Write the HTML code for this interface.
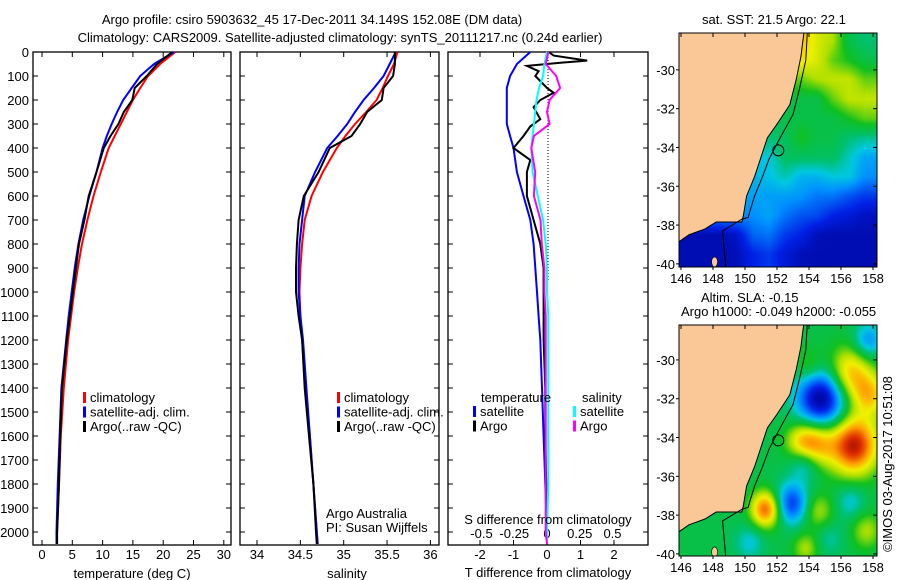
<!DOCTYPE html>
<html><head><meta charset="utf-8"><style>
body{margin:0;background:#fff;width:900px;height:580px;overflow:hidden;position:relative;font-family:"Liberation Sans",sans-serif}
canvas{position:absolute}
svg{position:absolute;left:0;top:0}
text{font-family:"Liberation Sans",sans-serif;font-size:13px;fill:#000}
</style></head><body>
<canvas id="sstCanvas" width="198" height="234" style="left:679px;top:33px"></canvas>
<canvas id="slaCanvas" width="198" height="231" style="left:679px;top:325px"></canvas>
<svg id="chart" width="900" height="580" xmlns="http://www.w3.org/2000/svg">
<text x="312" y="24" text-anchor="middle">Argo profile: csiro 5903632_45 17-Dec-2011 34.149S 152.08E (DM data)</text>
<text x="340" y="42" text-anchor="middle">Climatology: CARS2009. Satellite-adjusted climatology: synTS_20111217.nc (0.24d earlier)</text>
<text x="702" y="24">sat. SST: 21.5 Argo: 22.1</text>
<text x="701" y="302">Altim. SLA: -0.15</text>
<text x="681" y="316">Argo h1000: -0.049 h2000: -0.055</text>
<text transform="translate(892,464) rotate(-90)" text-anchor="middle">©IMOS 03-Aug-2017 10:51:08</text>
<g id="g"></g>
</svg>
<script>
// ---------- profile data ----------
const depths = [0,50,100,150,200,250,300,350,400,500,600,700,800,900,1000,1100,1200,1400,1600,1800,2000,2050];
const tempArgo = [21.5,19,17.3,15.3,14.9,13.5,12.6,11.3,10.2,9,7.7,7,6.1,5.6,5.1,4.6,4.1,3.3,3.0,2.8,2.5,2.5];
const tempClim = [22,19.5,17.5,16.2,15,14,13,12,11,9.7,8.5,7.5,6.6,5.9,5.3,4.8,4.3,3.6,3.1,2.8,2.5,2.4];
const tempSat = [21.8,18.5,16.2,14.8,13.4,12.4,11.5,10.7,10,9,7.8,6.8,6,5.4,4.9,4.4,4,3.2,2.9,2.6,2.4,2.4];
const salArgo = [35.59,35.59,35.57,35.46,35.44,35.27,35.19,35.09,34.84,34.71,34.54,34.48,34.46,34.45,34.45,34.48,34.52,34.55,34.6,34.65,34.68,34.69];
const salClim = [35.62,35.58,35.51,35.45,35.38,35.26,35.13,35.02,34.92,34.76,34.63,34.55,34.52,34.5,34.49,34.5,34.52,34.56,34.61,34.65,34.69,34.7];
const salSat = [35.6,35.53,35.46,35.35,35.23,35.13,35.04,34.93,34.81,34.67,34.55,34.52,34.49,34.48,34.48,34.5,34.53,34.57,34.61,34.65,34.69,34.7];
const diffTSat = [-0.5,-0.9,-1.1,-1.2,-1.2,-1.2,-1.2,-1.1,-1.0,-0.9,-0.7,-0.5,-0.4,-0.35,-0.3,-0.25,-0.2,-0.15,-0.1,-0.05,0,0];
const diffSSat = [0,-0.02,-0.03,-0.06,-0.08,-0.09,-0.1,-0.11,-0.12,-0.11,-0.07,-0.03,-0.01,0,0,0.01,0.01,0.01,0.01,0.01,0,0];
const diffSArgo = [0.01,-0.01,0.07,0.1,0.02,0.0,0.02,-0.1,-0.12,-0.09,-0.1,-0.05,-0.04,-0.02,-0.02,-0.01,-0.01,-0.01,-0.01,-0.01,-0.01,0];
const argoDiffDepths = [0,15,36,45,58,80,100,150,170,200,230,280,310,350,400,450,500,600,700,800,900,1000,1200,1400,1600,1800,2000,2050];
const diffTArgo = [0.05,0.2,1.2,0.4,-0.6,-0.25,-0.35,0,0.2,-0.2,-0.4,-0.2,-0.5,-0.7,-1.0,-0.5,-0.6,-0.6,-0.4,-0.2,-0.1,-0.1,-0.1,-0.05,-0.05,-0.02,0,0];
const depthTicks = [0,100,200,300,400,500,600,700,800,900,1000,1100,1200,1300,1400,1500,1600,1700,1800,1900,2000];
const tempTicks = [0,5,10,15,20,25,30];
const salTicks = [34,34.5,35,35.5,36];
const tdiffTicks = [-2,-1,0,1,2];
const sdiffTicks = [-0.5,-0.25,0,0.25,0.5];
// ---------- map data ----------
const sstLats = [-28.5,-29.5,-30.5,-31.5,-32.5,-33.5,-34.5,-35.5,-36.5,-37.5,-38.5,-39.5];
const sstLons = [146.5,147.5,148.5,149.5,150.5,151.5,152.5,153.5,154.5,155.5,156.5,157.5];
const sstGrid = [
[.75,.75,.75,.75,.75,.75,.75,.75,.65,.6,.45,.4],
[.7,.7,.7,.7,.7,.7,.7,.7,.65,.55,.5,.45],
[.55,.55,.55,.55,.55,.55,.55,.55,.6,.62,.62,.55],
[.45,.45,.45,.45,.45,.45,.45,.45,.45,.55,.62,.62],
[.45,.45,.45,.45,.45,.45,.45,.45,.45,.45,.5,.55],
[.4,.4,.4,.4,.4,.4,.42,.5,.45,.45,.4,.38],
[.33,.33,.33,.33,.33,.33,.42,.42,.42,.42,.35,.28],
[.3,.3,.3,.3,.3,.32,.36,.3,.3,.33,.33,.25],
[.28,.28,.28,.28,.28,.27,.27,.26,.22,.22,.18,.15],
[.25,.25,.25,.25,.25,.28,.22,.18,.17,.12,.1,.07],
[.05,.05,.05,.08,.2,.22,.15,.12,.06,.05,.05,.05],
[.05,.05,.05,.06,.12,.15,.1,.06,.05,.05,.05,.05]];
const slaBase = 0.45;
const eddyLon = [154.8,156.8,154.5,153.5,156.5,157.8,151.3,152.9,153.7,157.7,156.6,150.3,154.6,153.8,157.6,155.3,154.0];
const eddyLat = [-32.0,-34.4,-34.3,-34.2,-30.7,-31.8,-37.7,-37.4,-35.3,-29.0,-37.3,-39.4,-37.8,-39.7,-38.8,-39.2,-30.3];
const eddyAmp = [-0.45,0.5,0.28,0.22,0.3,0.25,0.4,-0.3,-0.15,-0.2,-0.12,-0.12,0.15,0.15,0.15,-0.08,0.12];
const eddySig = [1.1,1.05,0.8,0.7,0.95,0.8,0.65,0.75,0.65,0.65,0.65,0.65,0.65,0.55,0.65,0.65,0.65];
const coastLon = [145.8,153.7,153.6,153.5,153.2,152.8,152.0,151.4,151.0,150.6,150.1,149.9,149.8,148.2,147.5,146.5,145.8];
const coastLat = [-28.0,-28.0,-28.6,-29.3,-30.5,-31.8,-32.8,-33.5,-34.5,-35.5,-36.5,-37.5,-37.84,-37.84,-38.2,-38.5,-38.9];
const isoLon = [153.9,153.8,153.4,153.0,152.2,151.5,151.1,150.6,150.3,150.2,149.8,148.6,148.8];
const isoLat = [-28.0,-29.5,-31.0,-32.3,-33.5,-34.6,-35.5,-36.5,-37.3,-37.6,-37.7,-38.3,-40.2];
const argoLon = 152.08, argoLat = -34.149;
const lonTicks = [146,148,150,152,154,156,158];
const latTicks = [-30,-32,-34,-36,-38,-40];

const NS='http://www.w3.org/2000/svg';
const G=document.getElementById('g');
function mk(t,a,p){const e=document.createElementNS(NS,t);for(const k in a)e.setAttribute(k,a[k]);(p||G).appendChild(e);return e;}
function txt(x,y,s,anchor){const e=mk('text',{x:x,y:y,'text-anchor':anchor||'start'});e.textContent=s;return e;}

const Y0=52,YS=0.24;
const yD=d=>Y0+d*YS;
const xT=t=>42+t*6.06;
const xS=s=>257+(s-34)*86.7;
const xDT=v=>547+v*33.5;
const xDS=v=>547+v*131;

function panel(x0,x1,name){
  const r=mk('rect',{x:x0,y:52,width:x1-x0,height:493,fill:'none',stroke:'#000','stroke-width':1.3});
  
  
  depthTicks.forEach(d=>{mk('line',{x1:x0,x2:x0+5,y1:yD(d),y2:yD(d),stroke:'#000'});mk('line',{x1:x1-5,x2:x1,y1:yD(d),y2:yD(d),stroke:'#000'});});
}
function xticks(vals,fx,labY){
  vals.forEach(v=>{const x=fx(v);mk('line',{x1:x,x2:x,y1:52,y2:57,stroke:'#000'});mk('line',{x1:x,x2:x,y1:540,y2:545,stroke:'#000'});
    if(labY){const t=txt(x,labY,String(v),'middle');}});
}
function line(xs,ds,fx,color,name,w){
  const pts=xs.map((v,i)=>fx(v).toFixed(1)+','+yD(ds[i]).toFixed(1)).join(' ');
  const p=mk('polyline',{points:pts,fill:'none',stroke:color,'stroke-width':w||2,'stroke-linejoin':'miter'});
  
  
}
panel(33,231,'temperature-panel');
depthTicks.forEach(d=>{const t=txt(29,yD(d)+5,String(d),'end');});
xticks(tempTicks,xT,559);
line(tempClim,depths,xT,'#f00','temp-climatology-line');
line(tempSat,depths,xT,'#00f','temp-satellite-line');
line(tempArgo,depths,xT,'#000','temp-argo-line');
txt(132,578,'temperature (deg C)','middle');
panel(240,439,'salinity-panel');
xticks(salTicks,xS,559);
line(salClim,depths,xS,'#f00','sal-climatology-line');
line(salSat,depths,xS,'#00f','sal-satellite-line');
line(salArgo,depths,xS,'#000','sal-argo-line');
txt(347,578,'salinity','middle');
function legend(x,y,items,name){
  const g=mk('g',{});
  items.forEach((it,i)=>{mk('rect',{x:x,y:y+i*14.5-10,width:3,height:11,fill:it[1]},g);const t=mk('text',{x:x+7,y:y+i*14.5},g);t.textContent=it[0];});
}
legend(83,402,[['climatology','#f00'],['satellite-adj. clim.','#00f'],['Argo(..raw -QC)','#000']],'temp-legend');
legend(337,402,[['climatology','#f00'],['satellite-adj. clim.','#00f'],['Argo(..raw -QC)','#000']],'sal-legend');
txt(326,518,'Argo Australia');txt(326,532,'PI: Susan Wijffels');
panel(448,648,'difference-panel');
xticks(tdiffTicks,xDT,559);
for(let y=54;y<280;y+=3)mk('rect',{x:547.5,y:y,width:1,height:1,fill:'#000'});
sdiffTicks.forEach(v=>{const t=txt(xDS(v),538,String(v),'middle');});
line(diffTSat,depths,xDT,'#00f','tdiff-satellite-line');
line(diffTArgo,argoDiffDepths,xDT,'#000','tdiff-argo-line');
line(diffSSat,depths,xDS,'#0ff','sdiff-satellite-line');
line(diffSArgo,depths,xDS,'#f0f','sdiff-argo-line');
txt(548,524,'S difference from climatology','middle');
txt(548,577,'T difference from climatology','middle');
txt(481,402,'temperature');txt(582,402,'salinity');
legend(473,416,[['satellite','#00f'],['Argo','#000']],'tdiff-legend');
legend(573,416,[['satellite','#0ff'],['Argo','#f0f']],'sdiff-legend');

// ---------- maps ----------
const stops=[[0,[0,0,140]],[0.12,[0,32,230]],[0.25,[0,144,255]],[0.33,[0,200,224]],[0.4,[0,192,112]],[0.5,[16,192,32]],[0.6,[176,224,0]],[0.68,[240,240,0]],[0.78,[255,160,0]],[0.9,[224,48,0]],[1,[144,0,0]]];
function cmap(v){v=Math.max(0,Math.min(1,v));for(let i=1;i<stops.length;i++){if(v<=stops[i][0]){const a=stops[i-1],b=stops[i],f=(v-a[0])/(b[0]-a[0]);return a[1].map((c,k)=>Math.round(c+(b[1][k]-c)*f));}}return stops[stops.length-1][1];}
const mapX0=679,mapW=198;
const lonOf=x=>146+(x+mapX0-681)/16;
const xL=l=>681+(l-146)*16;
function drawMap(id,lat0,fn){
  const c=document.getElementById(id),ctx=c.getContext('2d'),H=c.height,im=ctx.createImageData(mapW,H);
  for(let py=0;py<H;py++)for(let px=0;px<mapW;px++){
    const lon=lonOf(px+0.5),lat=lat0-(py+0.5)/19.4;const col=cmap(fn(lon,lat));const o=(py*mapW+px)*4;
    im.data[o]=col[0];im.data[o+1]=col[1];im.data[o+2]=col[2];im.data[o+3]=255;}
  ctx.putImageData(im,0,0);
}
function sstVal(lon,lat){
  let fi=(-28.5-lat),fj=(lon-146.5);fi=Math.max(0,Math.min(11,fi));fj=Math.max(0,Math.min(11,fj));
  const i=Math.floor(Math.min(fi,10.999)),j=Math.floor(Math.min(fj,10.999)),a=fi-i,b=fj-j;
  return sstGrid[i][j]*(1-a)*(1-b)+sstGrid[i+1][j]*a*(1-b)+sstGrid[i][j+1]*(1-a)*b+sstGrid[i+1][j+1]*a*b;
}
function slaVal(lon,lat){let v=slaBase;for(let k=0;k<eddyLon.length;k++){const dx=lon-eddyLon[k],dy=lat-eddyLat[k];v+=eddyAmp[k]*Math.exp(-(dx*dx+dy*dy)/(2*eddySig[k]*eddySig[k]));}return v;}
const LAT0a=-28.1,LAT0b=-28.2;
drawMap('sstCanvas',LAT0a,sstVal);
drawMap('slaCanvas',LAT0b,slaVal);
function mapOverlay(top,h,lat0,name){
  const yL=l=>top+(lat0-l)*19.4;
  const g=mk('g',{});
  const cp=mk('clipPath',{id:'clip'+top},g);mk('rect',{x:mapX0,y:top,width:mapW,height:h},cp);
  const gg=mk('g',{'clip-path':'url(#clip'+top+')'},g);
  const land=mk('polygon',{points:coastLon.map((l,i)=>xL(l)+','+yL(coastLat[i])).join(' '),fill:'#fac896',stroke:'#000','stroke-width':1},gg);
  
  mk('ellipse',{cx:xL(148.1),cy:yL(-39.9),rx:3,ry:5,fill:'#fac896',stroke:'#000','stroke-width':0.6},gg);
  const iso=mk('polyline',{points:isoLon.map((l,i)=>xL(l)+','+yL(isoLat[i])).join(' '),fill:'none',stroke:'#000','stroke-width':1},gg);
  
  const m=mk('circle',{cx:xL(argoLon),cy:yL(argoLat),r:5.5,fill:'none',stroke:'#000','stroke-width':1},g);
  
  mk('rect',{x:mapX0,y:top,width:mapW,height:h,fill:'none',stroke:'#000','stroke-width':1},g);
  lonTicks.forEach(l=>{const x=xL(l);mk('line',{x1:x,x2:x,y1:top,y2:top+4,stroke:'#000'},g);mk('line',{x1:x,x2:x,y1:top+h,y2:top+h+3,stroke:'#000'},g);
    const t=txt(x,top+h+16,String(l),'middle');});
  latTicks.forEach(l=>{const y=yL(l);mk('line',{x1:mapX0-3,x2:mapX0,y1:y,y2:y,stroke:'#000'},g);mk('line',{x1:mapX0+mapW-4,x2:mapX0+mapW,y1:y,y2:y,stroke:'#000'},g);
    const t=txt(675,y+5,String(l),'end');});
}
mapOverlay(33,234,LAT0a,'sst-map');
mapOverlay(325,231,LAT0b,'sla-map');
</script>
</body></html>
